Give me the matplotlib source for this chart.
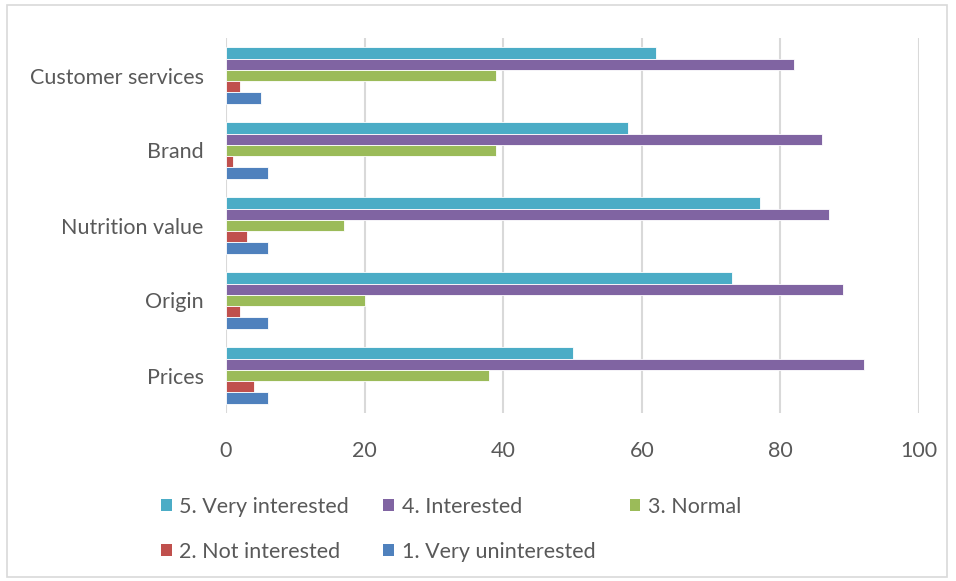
import matplotlib
matplotlib.use("Agg")
import matplotlib.pyplot as plt
from matplotlib.patches import Rectangle, Patch
import numpy as np

plt.rcParams["font.family"] = ["Lato", "DejaVu Sans"]

categories = ["Prices", "Origin", "Nutrition value", "Brand", "Customer services"]
very_interested = [50, 73, 77, 58, 62]
interested = [92, 89, 87, 86, 82]
normal = [38, 20, 17, 39, 39]
not_interested = [4, 2, 3, 1, 2]
very_uninterested = [6, 6, 6, 6, 5]

series = [
    ("5. Very interested", very_interested, "#4BACC6"),
    ("4. Interested", interested, "#8064A2"),
    ("3. Normal", normal, "#9BBB59"),
    ("2. Not interested", not_interested, "#C0504D"),
    ("1. Very uninterested", very_uninterested, "#4F81BD"),
]

TXT = "#595959"
GRID = "#D9D9D9"

fig = plt.figure(figsize=(9.56, 5.81), dpi=100)
ax = fig.add_axes([226 / 956, 1 - 413 / 581, (919 - 226) / 956, (413 - 38) / 581])

y = np.arange(len(categories))
h = 0.15
handles = {}
for k, (name, vals, col) in enumerate(series):
    off = (2 - k) * h
    ax.barh(y + off, vals, height=h, color=col, edgecolor="white",
            linewidth=0.6, zorder=3)
    handles[name] = Patch(facecolor=col, edgecolor="none", label=name)

ax.set_xlim(0, 100)
ax.set_ylim(-0.5, len(categories) - 0.5)
ax.set_xticks(np.arange(0, 101, 20))
ax.set_yticks(y)
ax.set_yticklabels(categories)
ax.tick_params(axis="both", length=0, labelsize=15.5, colors=TXT)
ax.tick_params(axis="x", pad=20)
ax.tick_params(axis="y", pad=16)
ax.grid(axis="x", color=GRID, linewidth=1.5, zorder=0)
for s in ax.spines.values():
    s.set_visible(False)

# legend: row 1 = 5,4,3 ; row 2 = 2,1 (matplotlib fills columns first)
order = ["5. Very interested", "2. Not interested", "4. Interested",
         "1. Very uninterested", "3. Normal"]
fig.legend([handles[n] for n in order], order, loc="upper left",
           bbox_to_anchor=(150 / 956, 1 - 486 / 581), ncol=3, frameon=False,
           fontsize=15.5, labelcolor=TXT, handlelength=0.5, handleheight=0.5,
           handletextpad=0.35, columnspacing=1.6, labelspacing=1.15,
           borderpad=0)

fig.patches.append(Rectangle((7 / 956, 4 / 581), 940 / 956, 572 / 581,
                             transform=fig.transFigure, fill=False,
                             edgecolor=GRID, linewidth=1.2))

fig.savefig("out.png", dpi=100)
